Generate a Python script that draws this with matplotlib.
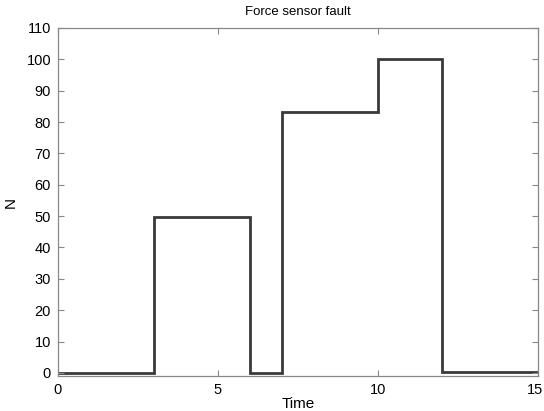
import numpy as np
import matplotlib
matplotlib.use("Agg")
import matplotlib.pyplot as plt
import matplotlib.transforms as mtransforms

# step edges and levels of the fault signal
edges = [0, 3, 6, 7, 10, 12, 15]
levels = [0, 49.7, 0, 83.2, 100, 0.3]

x_ticks = [0, 5, 10, 15]
y_ticks = list(range(0, 111, 10))

plt.rcParams["font.family"] = ["Liberation Sans", "DejaVu Sans"]

fig = plt.figure(figsize=(5.44, 4.11), dpi=100)
ax = fig.add_axes([0.1066, 0.085, 0.8824, 0.847])

ax.stairs(levels, edges, color="#3a3a3a", linewidth=2.0, baseline=None)

ax.set_xlim(0, 15)
ax.set_ylim(-1, 110)
ax.set_xticks(x_ticks)
ax.set_yticks(y_ticks)
ax.tick_params(direction="in", top=True, right=True, labelsize=10.5,
               length=4, width=0.8, color="#888888", pad=5)
for s in ax.spines.values():
    s.set_color("#888888")
    s.set_linewidth(0.9)

# nudge the last x label so it stays inside the figure
last = ax.get_xticklabels()[-1]
last.set_transform(last.get_transform() +
                   mtransforms.ScaledTranslation(-3 / 100, 0, fig.dpi_scale_trans))

ax.set_title("Force sensor fault", fontsize=9.5, pad=9)
ax.set_xlabel("Time", fontsize=11, labelpad=0)
ax.set_ylabel("N", fontsize=11, labelpad=6)

fig.savefig("out.png", dpi=100)
